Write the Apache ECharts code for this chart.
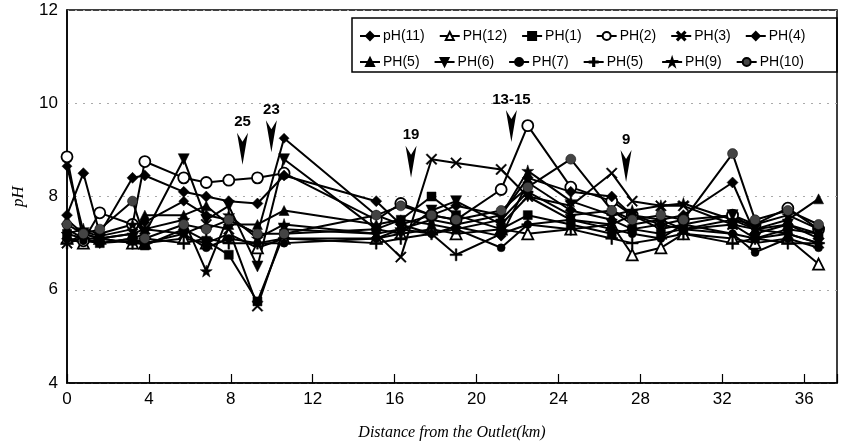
<!DOCTYPE html>
<html>
<head>
<meta charset="utf-8">
<script src="https://cdn.jsdelivr.net/npm/echarts@6/dist/echarts.min.js"></script>
<style>
  html, body { margin: 0; padding: 0; background: #fff; }
  #chart { width: 841px; height: 447px; }
</style>
</head>
<body>
<div id="chart"></div>
<script>
// sampling stations, km from the outlet
const distance = [0, 0.8, 1.6, 3.2, 3.8, 5.7, 6.8, 7.9, 9.3, 10.6, 15.1, 16.3, 17.8, 19.0, 21.2, 22.5, 24.6, 26.6, 27.6, 29.0, 30.1, 32.5, 33.6, 35.2, 36.7];

// pH values per survey (same order as distance)
const pH11 = [8.65, 7.25, 7.15, 7.30, 7.45, 7.90, 7.60, 7.50, 7.20, 9.25, 7.60, 7.40, 7.20, 7.35, 7.15, 8.30, 7.70, 7.50, 7.30, 7.40, 7.30, 7.20, 7.10, 7.20, 7.00];
const ph12 = [7.10, 7.00, 7.10, 7.00, 7.00, 7.10, 7.00, 7.20, 6.90, 7.10, 7.10, 7.20, 7.30, 7.20, 7.30, 7.20, 7.30, 7.40, 6.75, 6.90, 7.20, 7.10, 7.00, 7.10, 6.55];
const ph1 = [7.20, 7.10, 7.00, 7.05, 6.95, 7.30, 7.05, 6.75, 5.75, 7.20, 7.30, 7.50, 8.00, 7.60, 7.30, 7.60, 7.40, 7.20, 7.30, 7.20, 7.30, 7.40, 7.10, 7.30, 7.20];
const ph2 = [8.85, 7.05, 7.65, 7.40, 8.75, 8.40, 8.30, 8.35, 8.40, 8.50, 7.50, 7.85, 7.60, 7.50, 8.15, 9.52, 8.20, 7.90, 7.60, 7.40, 7.50, 7.60, 7.40, 7.75, 7.30];
const ph3 = [7.00, 7.20, 7.10, 7.20, 7.30, 7.20, 7.40, 7.30, 5.65, 7.30, 7.20, 6.70, 8.80, 8.72, 8.58, 8.00, 7.80, 8.50, 7.90, 7.80, 7.80, 7.40, 7.30, 7.20, 7.00];
const ph4 = [7.60, 8.50, 7.20, 8.40, 8.45, 8.10, 8.00, 7.90, 7.85, 8.45, 7.90, 7.40, 7.60, 7.80, 7.60, 8.40, 8.10, 8.00, 7.60, 7.50, 7.60, 8.30, 7.20, 7.40, 7.10];
const ph5 = [7.50, 7.20, 7.10, 7.20, 7.60, 7.60, 7.80, 7.40, 7.40, 7.70, 7.40, 7.50, 7.40, 7.30, 7.50, 8.10, 7.60, 7.70, 7.40, 7.50, 7.30, 7.50, 7.30, 7.50, 7.95];
const ph6 = [7.30, 7.10, 7.00, 7.10, 7.20, 8.80, 7.50, 7.80, 6.50, 8.80, 7.30, 7.20, 7.70, 7.90, 7.40, 8.00, 7.50, 7.40, 7.60, 7.30, 7.40, 7.60, 7.30, 7.40, 7.20];
const ph7 = [7.10, 7.05, 7.00, 7.10, 7.00, 7.20, 6.90, 7.10, 7.00, 7.00, 7.10, 7.30, 7.20, 7.30, 6.90, 7.40, 7.50, 7.30, 7.20, 7.10, 7.40, 7.20, 6.80, 7.10, 6.90];
const ph5b = [7.00, 7.10, 7.10, 7.00, 7.10, 7.00, 7.10, 7.00, 7.00, 7.10, 7.00, 7.10, 7.20, 6.75, 7.20, 7.40, 7.30, 7.10, 7.00, 7.10, 7.20, 7.00, 7.10, 7.00, 7.00];
const ph9 = [7.20, 7.30, 7.20, 7.40, 7.30, 7.50, 6.40, 7.60, 7.10, 7.40, 7.20, 7.30, 7.50, 7.40, 7.60, 8.55, 7.90, 7.60, 7.70, 7.80, 7.85, 7.50, 7.40, 7.60, 7.30];
const ph10 = [7.40, 7.20, 7.30, 7.90, 7.10, 7.40, 7.30, 7.50, 7.20, 7.20, 7.60, 7.80, 7.60, 7.50, 7.70, 8.20, 8.80, 7.70, 7.50, 7.60, 7.50, 8.92, 7.50, 7.70, 7.40];

// station arrows
const arrowLabels = ['25', '23', '19', '13-15', '9'];
const arrowX = [8.57, 9.98, 16.8, 21.7, 27.3];
const arrowY = [8.68, 8.95, 8.40, 9.17, 8.31];

const xTicks = [0, 4, 8, 12, 16, 20, 24, 28, 32, 36];

const X_PATH = 'path://M0,1 L1,0 L5,4 L9,0 L10,1 L6,5 L10,9 L9,10 L5,6 L1,10 L0,9 L4,5 Z';
const PLUS_PATH = 'path://M4.3,0 H5.7 V4.3 H10 V5.7 H5.7 V10 H4.3 V5.7 H0 V4.3 H4.3 Z';
const STAR_PATH = 'path://M5,0 L6.2,3.8 L10,3.8 L7,6.2 L8.1,10 L5,7.6 L1.9,10 L3,6.2 L0,3.8 L3.8,3.8 Z';
const ARROW_PATH = 'path://M0,0 L5,9 L10,0 L5,32 Z';

const seriesDefs = [
    { name: 'pH(11)', data: pH11, symbol: 'diamond', size: 10, fill: '#000' },
    { name: 'PH(12)', data: ph12, symbol: 'triangle', size: 11, fill: '#fff' },
    { name: 'PH(1)', data: ph1, symbol: 'rect', size: 9, fill: '#000' },
    { name: 'PH(2)', data: ph2, symbol: 'circle', size: 11, fill: '#fff' },
    { name: 'PH(3)', data: ph3, symbol: X_PATH, size: 11, fill: '#000' },
    { name: 'PH(4)', data: ph4, symbol: 'diamond', size: 11, fill: '#000' },
    { name: 'PH(5)', data: ph5, symbol: 'triangle', size: 10, fill: '#000' },
    { name: 'PH(6)', data: ph6, symbol: 'triangle', size: 11, fill: '#000', rotate: 180 },
    { name: 'PH(7)', data: ph7, symbol: 'circle', size: 8, fill: '#000' },
    { name: 'PH(5) ', data: ph5b, symbol: PLUS_PATH, size: 12, fill: '#000' },
    { name: 'PH(9)', data: ph9, symbol: STAR_PATH, size: 12, fill: '#000' },
    { name: 'PH(10)', data: ph10, symbol: 'circle', size: 10, fill: '#444' }
];

const FONT = '"Liberation Sans", Arial, sans-serif';

const chart = echarts.init(document.getElementById('chart'), null, { renderer: 'canvas' });

const series = seriesDefs.map((s, i) => {
    const out = {
        name: s.name,
        type: 'line',
        data: distance.map((d, k) => [d, s.data[k]]),
        symbol: s.symbol,
        symbolSize: s.size,
        symbolRotate: s.rotate || 0,
        showAllSymbol: true,
        z: 2,
        lineStyle: { color: '#000', width: 2 },
        itemStyle: { color: s.fill, borderColor: '#000', borderWidth: s.fill === '#fff' ? 1.8 : 0.5 },
        emphasis: { disabled: true },
        animation: false
    };
    if (i === 0) {
        // downward arrows marking station numbers
        out.markPoint = {
            symbol: ARROW_PATH,
            symbolSize: [11, 32],
            symbolOffset: [0, '-50%'],
            itemStyle: { color: '#000' },
            label: {
                show: true,
                position: 'top',
                distance: 3,
                color: '#000',
                fontSize: 15,
                fontFamily: FONT,
                fontWeight: 'bold',
                formatter: (p) => p.name
            },
            data: arrowLabels.map((t, k) => ({ name: t, coord: [arrowX[k], arrowY[k]] }))
        };
    }
    return out;
});

const legendText = { color: '#000', fontSize: 14, fontFamily: FONT, padding: [0, 0, 0, -2] };

const option = {
    backgroundColor: '#fff',
    animation: false,
    grid: {
        left: 67, right: 4, top: 10, bottom: 64,
        show: true, borderColor: '#000', borderWidth: 1.5
    },
    legend: [
        {
            data: seriesDefs.slice(0, 6).map(s => s.name),
            left: 354, top: 24, width: 480, itemWidth: 20, itemHeight: 10, itemGap: 14,
            textStyle: legendText, selectedMode: false
        },
        {
            data: seriesDefs.slice(6).map(s => s.name),
            left: 354, top: 50, width: 480, itemWidth: 20, itemHeight: 10, itemGap: 14,
            textStyle: legendText, selectedMode: false
        }
    ],
    graphic: [
        {
            type: 'rect',
            shape: { x: 352, y: 18, width: 485, height: 54 },
            style: { fill: 'none', stroke: '#000', lineWidth: 1.5 },
            z: 100
        }
    ],
    xAxis: {
        type: 'value',
        min: 0,
        max: 37.6,
        interval: 4,
        name: 'Distance from the Outlet(km)',
        nameLocation: 'middle',
        nameGap: 42,
        nameTextStyle: { fontFamily: '"Liberation Serif", "DejaVu Serif", serif', fontStyle: 'italic', fontSize: 16, color: '#000' },
        axisLine: { lineStyle: { color: '#000', width: 1.5 } },
        axisTick: { inside: true, length: 9, lineStyle: { color: '#000', width: 1.2 } },
        axisLabel: {
            color: '#000', fontSize: 17, fontFamily: FONT, margin: 8,
            formatter: (v) => (xTicks.indexOf(v) >= 0 ? String(v) : '')
        },
        splitLine: { show: false }
    },
    yAxis: {
        type: 'value',
        min: 4,
        max: 12,
        interval: 2,
        name: 'pH',
        nameLocation: 'middle',
        nameGap: 40,
        nameRotate: 90,
        nameTextStyle: { fontFamily: '"Liberation Serif", "DejaVu Serif", serif', fontStyle: 'italic', fontSize: 17, color: '#000' },
        axisLine: { show: true, lineStyle: { color: '#000', width: 1.5 } },
        axisTick: { show: false },
        axisLabel: { color: '#000', fontSize: 17, fontFamily: FONT, margin: 9 },
        splitLine: { lineStyle: { type: [2, 6], color: '#aaa', width: 1 } }
    },
    series: series
};

chart.setOption(option);
</script>
</body>
</html>
